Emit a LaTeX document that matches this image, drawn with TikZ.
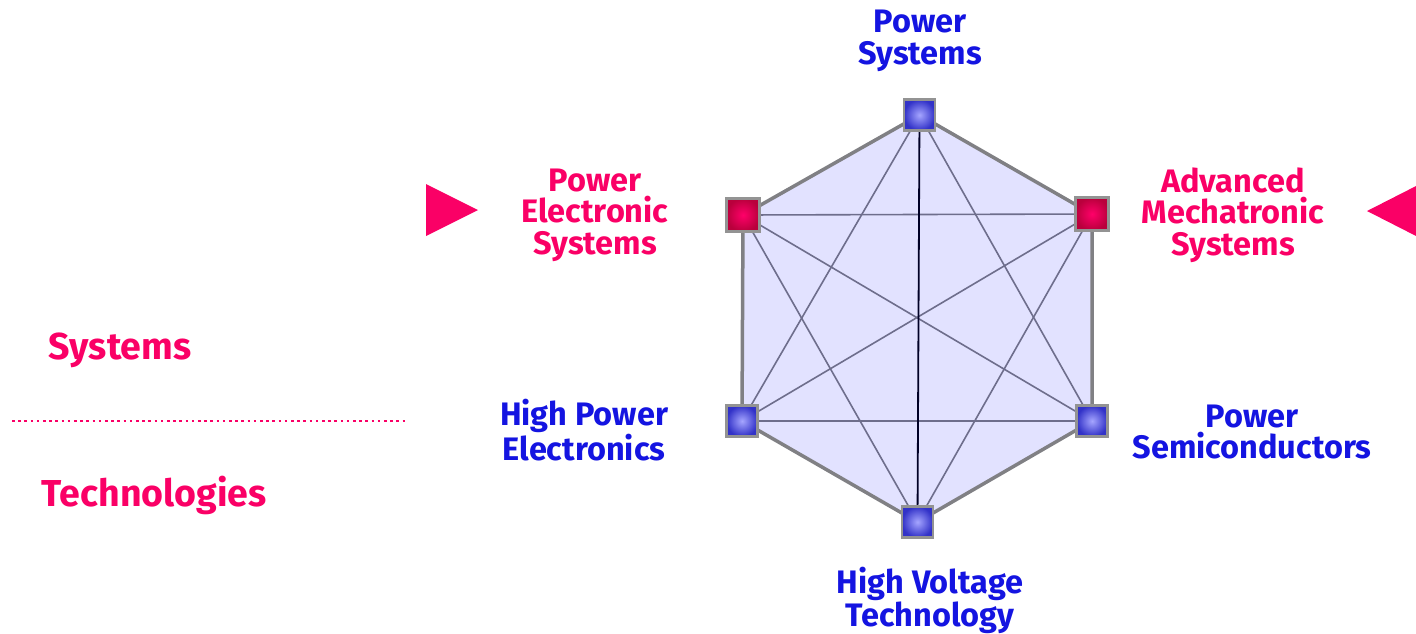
\documentclass[tikz,border=0pt]{standalone}
\usepackage{fontspec}
\setmainfont{Fira Sans}
\usetikzlibrary{backgrounds}
\definecolor{lblblue}{RGB}{20,20,225}
\definecolor{lblpink}{RGB}{250,0,102}
\definecolor{hexfill}{RGB}{226,226,255}
\definecolor{hexedge}{RGB}{128,128,132}
\definecolor{diag}{RGB}{110,110,140}
\definecolor{sqblueout}{RGB}{50,50,200}
\definecolor{sqbluein}{RGB}{165,165,255}
\definecolor{sqredout}{RGB}{185,0,60}
\definecolor{sqredin}{RGB}{255,0,105}
\tikzset{
  sq/.style={draw=gray!85, line width=2.5pt, minimum size=31pt, inner sep=0pt},
  bluesq/.style={sq, inner color=sqbluein, outer color=sqblueout},
  redsq/.style={sq, minimum size=33pt, inner color=sqredin, outer color=sqredout},
  lbl/.style={font=\fontsize{32.5}{31.5}\selectfont\bfseries, align=center, inner sep=0pt},
  bluelbl/.style={lbl, text=lblblue},
  pinklbl/.style={lbl, text=lblpink},
  biglbl/.style={pinklbl, font=\fontsize{37.5}{37.5}\selectfont\bfseries},
  hexline/.style={draw=hexedge, line width=3.5pt, line join=round},
  diagline/.style={draw=diag, line width=1.6pt},
  axisline/.style={draw=black!85!blue, line width=1.8pt},
}
\begin{document}
\begin{tikzpicture}[x=1pt,y=-1pt]
\useasboundingbox (0,0) rectangle (1416,633);
\clip (0,0) rectangle (1416,633);
% squares
\node[bluesq] (ps)   at (919.5,115) {};
\node[redsq]  (pes)  at (743,215) {};
\node[redsq]  (ams)  at (1092,214) {};
\node[bluesq] (hpe)  at (742,421) {};
\node[bluesq] (psem) at (1092,421) {};
\node[bluesq] (hvt)  at (917.5,522) {};
\begin{pgfonlayer}{background}
\fill[hexfill] (ps.center) -- (ams.center) -- (psem.center) -- (hvt.center) -- (hpe.center) -- (pes.center) -- cycle;
\draw[diagline] (ps.center) -- (hpe.center);
\draw[diagline] (ps.center) -- (psem.center);
\draw[diagline] (pes.center) -- (ams.center);
\draw[diagline] (pes.center) -- (psem.center);
\draw[diagline] (pes.center) -- (hvt.center);
\draw[diagline] (ams.center) -- (hpe.center);
\draw[diagline] (ams.center) -- (hvt.center);
\draw[diagline] (hpe.center) -- (psem.center);
\draw[axisline] (ps.center) -- (hvt.center);
\draw[hexline] (ps.center) -- (ams.center) -- (psem.center) -- (hvt.center) -- (hpe.center) -- (pes.center) -- cycle;
\end{pgfonlayer}
% labels
\node[bluelbl] (lps) at (920,41) {Power\\Systems};
\node[pinklbl] (lpes) at (595,215) {Power\\Electronic\\Systems};
\node[pinklbl] (lams) at (1233,215) {Advanced\\Mechatronic\\Systems};
\node[bluelbl] (lhpe) at (584,430) {High Power\\Electronics};
\node[bluelbl] (lpsem) at (1252,432) {Power\\Semiconductors};
\node[bluelbl] (lhvt) at (930,600) {High Voltage\\Technology};
\node[biglbl] (lsys) at (120,350) {Systems};
\node[biglbl] (ltech) at (154,495) {Technologies};
% dotted divider
\coordinate (dl) at (12,421);
\coordinate (dr) at (405,421);
\draw[lblpink, line width=2.6pt, dash pattern=on 2.6pt off 3.6pt] (dl) -- (dr);
% triangles
\fill[lblpink] (426,184) -- (478,210) -- (426,236) -- cycle;
\fill[lblpink] (1367,211) -- (1420,184) -- (1420,238) -- cycle;
\end{tikzpicture}
\end{document}
